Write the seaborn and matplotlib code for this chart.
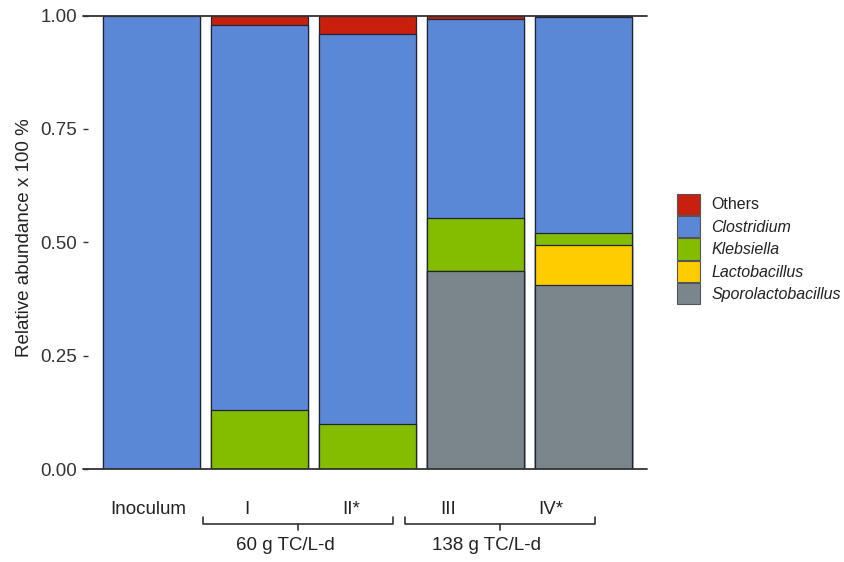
import matplotlib

matplotlib.use("Agg")
import matplotlib.pyplot as plt
import numpy as np
import seaborn as sns
from matplotlib.patches import Patch
from matplotlib.transforms import blended_transform_factory

# data
samples = ["Inoculum", "I", "II*", "III", "IV*"]
genera = ["Others", "Clostridium", "Klebsiella", "Lactobacillus", "Sporolactobacillus"]
others = [0.0, 0.02, 0.04, 0.008, 0.004]
clostridium = [1.0, 0.85, 0.86, 0.439, 0.476]
klebsiella = [0.0, 0.13, 0.10, 0.117, 0.027]
lactobacillus = [0.0, 0.0, 0.0, 0.0, 0.088]
sporolactobacillus = [0.0, 0.0, 0.0, 0.436, 0.405]

groups = ["60 g TC/L-d", "138 g TC/L-d"]

colors = {
    "Others": "#C8200E",
    "Clostridium": "#5B87D7",
    "Klebsiella": "#84BC00",
    "Lactobacillus": "#FFCC00",
    "Sporolactobacillus": "#7B868C",
}
EDGE = "#1f2533"
INK = "#333333"

sns.set_style("white")
plt.rcParams["font.family"] = ["Liberation Sans", "DejaVu Sans"]

fig = plt.figure(figsize=(8.44, 5.62), dpi=100)
W, H = 844, 562
ax = fig.add_axes([83 / W, 1 - 469 / H, (647 - 83) / W, (469 - 15.5) / H])

# stacked bars: draw cumulative totals from the top layer down
layers = [others, clostridium, klebsiella, lactobacillus, sporolactobacillus]
stack = np.array(layers[::-1])  # bottom -> top
cum = np.cumsum(stack, axis=0)[::-1]  # top layer first
for name, heights in zip(genera, cum):
    sns.barplot(
        x=samples,
        y=heights,
        order=samples,
        color=colors[name],
        saturation=1,
        width=0.9,
        errorbar=None,
        edgecolor=EDGE,
        linewidth=0.9,
        ax=ax,
    )

ax.set_xlim(-0.634, 4.588)
ax.set_ylim(0, 1)
ax.set_xticks([])
ax.set_xlabel("")
for s in ax.spines.values():
    s.set_visible(False)
ax.axhline(0, color=INK, lw=1.3, clip_on=False, zorder=5)
ax.axhline(1, color=INK, lw=1.3, clip_on=False, zorder=5)

ax.set_yticks([0, 0.25, 0.5, 0.75, 1.0])
ax.set_yticklabels(["0.00", "0.25", "0.50", "0.75", "1.00"])
ax.tick_params(axis="y", direction="in", length=3.5, width=1, color=INK,
               pad=4.3, labelsize=13.5, labelcolor=INK, left=True)
ax.set_ylabel("Relative abundance x 100 %", fontsize=13.5, color="#222222")
ax.yaxis.set_label_coords(-0.089, 0.51)

# sample labels and group brackets under the bars
tr = blended_transform_factory(ax.transData, ax.transAxes)
label_x = [-0.03, 0.885, 1.847, 2.75, 3.70]
for name, x in zip(samples, label_x):
    ax.text(x, -0.0904, name, transform=tr, ha="center", va="center",
            fontsize=13.5, color="#222222")

brackets = [(0.477, 2.236, 1.356, 1.244), (2.347, 4.106, 3.227, 3.104)]
for (x0, x1, xc, xt), label in zip(brackets, groups):
    ax.plot([x0, x0, x1, x1], [-0.1058, -0.1213, -0.1213, -0.1058],
            transform=tr, color=INK, lw=1.2, clip_on=False)
    ax.plot([xc, xc], [-0.1213, -0.1345], transform=tr, color=INK,
            lw=1.2, clip_on=False)
    ax.text(xt, -0.1676, label, transform=tr, ha="center", va="center",
            fontsize=13.5, color="#222222")

handles = [Patch(facecolor=colors[g], edgecolor="#555555", linewidth=0.8) for g in genera]
leg = fig.legend(
    handles, genera,
    loc="center left",
    bbox_to_anchor=(677 / W, 1 - 249 / H),
    bbox_transform=fig.transFigure,
    frameon=False,
    borderpad=0,
    borderaxespad=0,
    handlelength=1.44,
    handleheight=1.66,
    labelspacing=0.08,
    handletextpad=0.7,
    fontsize=11.5,
)
for t in leg.get_texts():
    if t.get_text() != "Others":
        t.set_fontstyle("italic")
    t.set_color("#222222")

fig.savefig("out.png", dpi=100)
plt.close(fig)
